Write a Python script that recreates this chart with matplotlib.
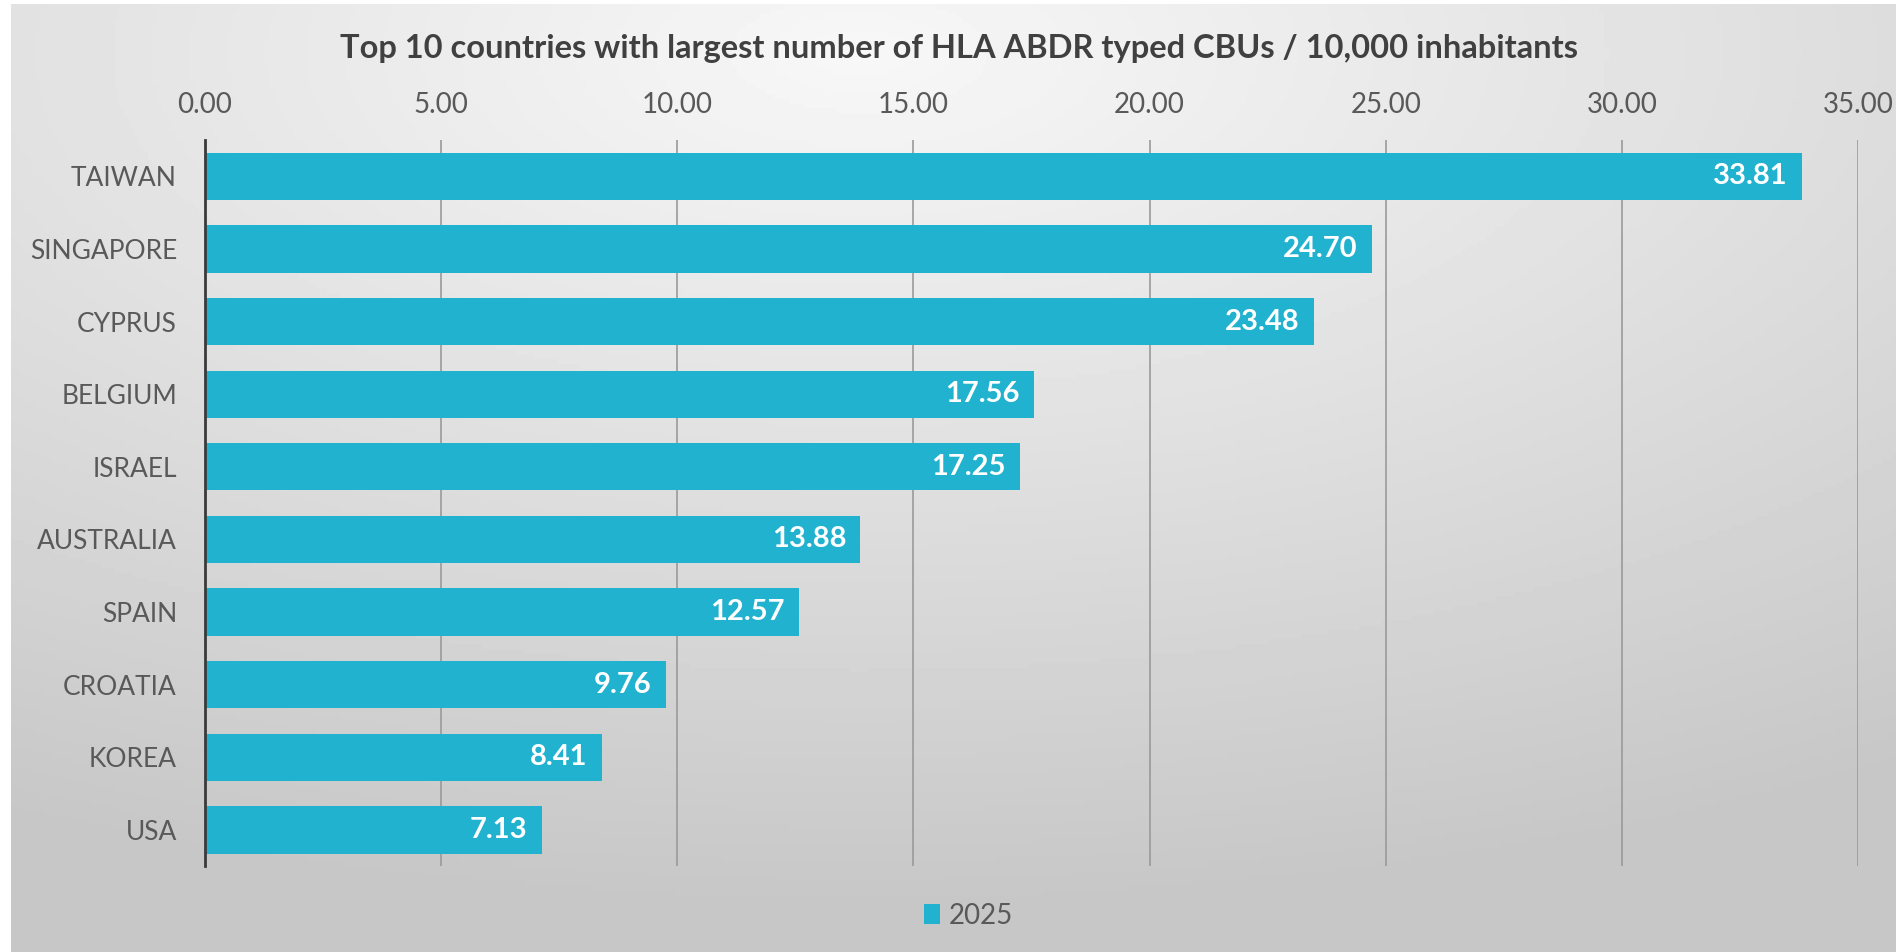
import numpy as np
import matplotlib
matplotlib.use("Agg")
import matplotlib.pyplot as plt

plt.rcParams['font.family'] = ['Lato', 'DejaVu Sans']

countries = ['TAIWAN', 'SINGAPORE', 'CYPRUS', 'BELGIUM', 'ISRAEL',
             'AUSTRALIA', 'SPAIN', 'CROATIA', 'KOREA', 'USA']
values = [33.81, 24.70, 23.48, 17.56, 17.25, 13.88, 12.57, 9.76, 8.41, 7.13]
series_name = '2025'
xticks = [0, 5, 10, 15, 20, 25, 30, 35]

bar_color = '#21b2cf'
text_grey = '#595959'

fig = plt.figure(figsize=(18.96, 9.52), dpi=100)
fig.patch.set_facecolor('white')

# background gradient (light centre top, greyer to the edges), with a thin white border left/top
bg = fig.add_axes([11 / 1896, 0, 1 - 11 / 1896, 1 - 4 / 952], zorder=-10)
yy, xx = np.mgrid[0:1:200j, 0:1:400j]
d = np.sqrt(((xx - 0.45) / 1.0) ** 2 + ((yy - 0.05) / 0.9) ** 2)
shade = 0.97 - 0.19 * np.clip(d, 0, 1)
bg.imshow(shade, cmap='gray', vmin=0, vmax=1, aspect='auto',
          extent=[0, 1, 0, 1], origin='upper')
bg.axis('off')

ax = fig.add_axes([0.108, 0.09, 0.872, 0.763])
ax.patch.set_alpha(0)
y = np.arange(len(countries))
bars = ax.barh(y, values, height=0.65, color=bar_color, zorder=3,
               label=series_name)
ax.set_ylim(len(countries) - 0.5, -0.5)
ax.set_xlim(0, 35)
ax.set_yticks(y)
ax.set_yticklabels(countries)
ax.set_xticks(xticks)
ax.set_xticklabels([f'{t:.2f}' for t in xticks])
ax.xaxis.tick_top()
ax.tick_params(axis='x', length=0, pad=16, labelsize=20, labelcolor=text_grey)
ax.tick_params(axis='y', length=0, pad=20, labelsize=19, labelcolor=text_grey)
ax.grid(axis='x', color='#9a9a9a', linewidth=1.2, zorder=0)
for s in ['top', 'right', 'bottom']:
    ax.spines[s].set_visible(False)
ax.spines['left'].set_color('#3a3a3a')
ax.spines['left'].set_linewidth(2)
ax.spines['left'].set_zorder(4)

for b, v in zip(bars, values):
    ax.text(v - 0.3, b.get_y() + b.get_height() / 2, f'{v:.2f}',
            ha='right', va='center', color='white', fontsize=21,
            fontweight='bold', zorder=5)

fig.text(0.506, 0.949, 'Top 10 countries with largest number of HLA ABDR typed CBUs / 10,000 inhabitants',
         ha='center', va='center', fontsize=23.5, fontweight='bold', color='#404040')

fig.legend(handles=[bars], labels=[series_name], loc='center',
           bbox_to_anchor=(0.511, 0.038), frameon=False, fontsize=20,
           handlelength=0.55, handleheight=0.7, handletextpad=0.35,
           labelcolor=text_grey)

fig.savefig('out.png', dpi=100)
